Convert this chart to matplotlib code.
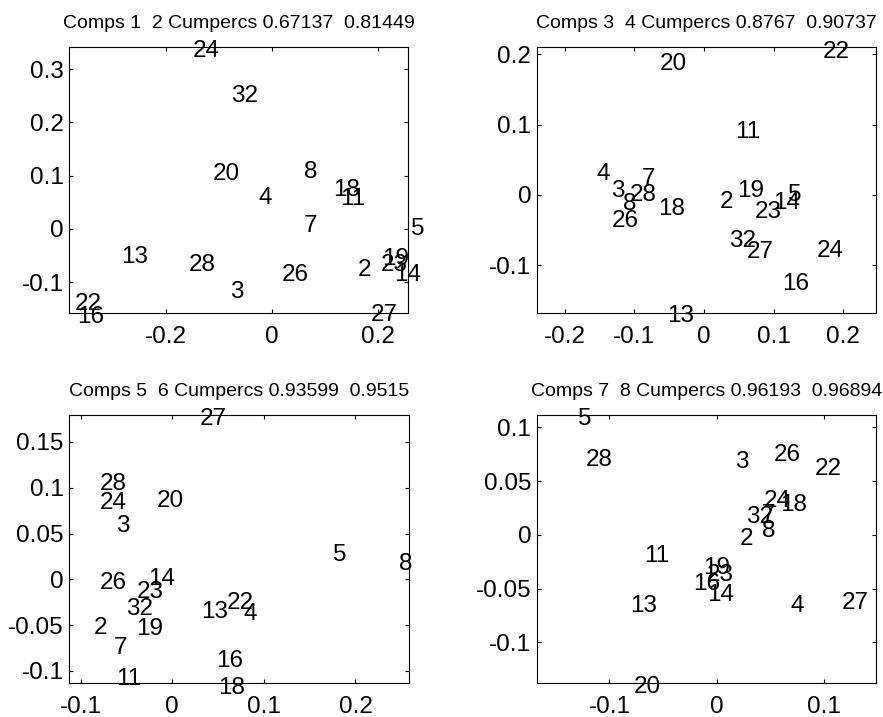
import matplotlib
matplotlib.use("Agg")
from matplotlib import pyplot as plt

# observation ids shown as labels
labels = [2, 3, 4, 5, 7, 8, 11, 13, 14, 16, 18, 19, 20, 22, 23, 24, 26, 27, 28, 32]

# component scores (same order as labels)
comp1 = [0.162, -0.079, -0.026, 0.262, 0.060, 0.060, 0.128, -0.285, 0.230, -0.368,
         0.115, 0.207, -0.111, -0.372, 0.206, -0.149, 0.019, 0.187, -0.157, -0.077]
comp2 = [-0.073, -0.113, 0.062, 0.004, 0.011, 0.111, 0.060, -0.047, -0.081, -0.161,
         0.077, -0.052, 0.107, -0.137, -0.062, 0.338, -0.081, -0.157, -0.062, 0.255]
comp3 = [0.023, -0.134, -0.154, 0.121, -0.0894, -0.116, 0.0445, -0.0535, 0.0995, 0.112,
         -0.0655, 0.048, -0.063, 0.171, 0.073, 0.162, -0.132, 0.062, -0.106, 0.036]
comp4 = [-0.007, 0.0095, 0.033, 0.003, 0.026, -0.0095, 0.093, -0.169, -0.0085, -0.123,
         -0.0166, 0.0095, 0.190, 0.207, -0.021, -0.076, -0.033, -0.077, 0.003, -0.062]
comp5 = [-0.0862, -0.0618, 0.078, 0.175, -0.0636, 0.248, -0.0618, 0.032, -0.026, 0.0477,
         0.0502, -0.0396, -0.017, 0.059, -0.039, -0.0797, -0.0797, 0.0295, -0.0797, -0.051]
comp6 = [-0.050, 0.061, -0.0354, 0.0295, -0.0717, 0.020, -0.1056, -0.0328, 0.003, -0.0862,
         -0.1154, -0.0517, 0.0877, -0.0226, -0.011, 0.0866, -0.001, 0.1775, 0.107, -0.030]
comp7 = [0.0217, 0.017, 0.069, -0.1296, 0.042, 0.042, -0.0678, -0.0808, -0.0093, -0.0218,
         0.059, -0.0125, -0.0777, 0.0916, -0.0093, 0.0435, 0.0528, 0.117, -0.122, 0.0273]
comp8 = [-0.001, 0.0704, -0.0642, 0.110, 0.0207, 0.0056, -0.0177, -0.0635, -0.0537, -0.0434,
         0.030, -0.028, -0.1395, 0.0635, -0.035, 0.0335, 0.0766, -0.0611, 0.0723, 0.0186]

cumpercs = [0.67137, 0.81449, 0.8767, 0.90737, 0.93599, 0.9515, 0.96193, 0.96894]

xticks = [[-0.2, 0, 0.2], [-0.2, -0.1, 0, 0.1, 0.2], [-0.1, 0, 0.1, 0.2], [-0.1, 0, 0.1]]
yticks = [[-0.1, 0, 0.1, 0.2, 0.3], [-0.1, 0, 0.1, 0.2],
          [-0.1, -0.05, 0, 0.05, 0.1, 0.15], [-0.1, -0.05, 0, 0.05, 0.1]]

plt.rcParams["font.family"] = ["Liberation Sans", "DejaVu Sans"]

fig = plt.figure(figsize=(8.83, 7.17), dpi=100)

boxes = [
    [0.0781, 0.5635, 0.3840, 0.3710],
    [0.6078, 0.5635, 0.3843, 0.3710],
    [0.0781, 0.0470, 0.3854, 0.3742],
    [0.6078, 0.0470, 0.3843, 0.3742],
]
limits = [
    ((-0.383, 0.2566), (-0.1576, 0.3415)),
    ((-0.240, 0.2468), (-0.168, 0.2105)),
    ((-0.1128, 0.2587), (-0.1135, 0.1794)),
    ((-0.1678, 0.1485), (-0.138, 0.1116)),
]
comps = [comp1, comp2, comp3, comp4, comp5, comp6, comp7, comp8]


def fmt(v):
    return "0" if v == 0 else f"{v:g}"


for k in range(4):
    ax = fig.add_axes(boxes[k])
    xs, ys = comps[2 * k], comps[2 * k + 1]
    for lab, x, y in zip(labels, xs, ys):
        ax.text(x, y, str(lab), fontsize=17.5, ha="left", va="center_baseline",
                clip_on=False)
    ax.set_xlim(*limits[k][0])
    ax.set_ylim(*limits[k][1])
    ax.set_xticks(xticks[k], [fmt(v) for v in xticks[k]])
    ax.set_yticks(yticks[k], [fmt(v) for v in yticks[k]])
    ax.tick_params(direction="in", length=3, width=0.8, top=True, right=True,
                   labelsize=17.5)
    ax.tick_params(axis="x", pad=9.5)
    ax.tick_params(axis="y", pad=4)
    for sp in ax.spines.values():
        sp.set_linewidth(0.8)
    a, b = cumpercs[2 * k], cumpercs[2 * k + 1]
    ax.set_title(f"Comps {2 * k + 1}  {2 * k + 2} Cumpercs {a:g}  {b:g}",
                 fontsize=14, pad=14)

fig.savefig("out.png", dpi=100)
